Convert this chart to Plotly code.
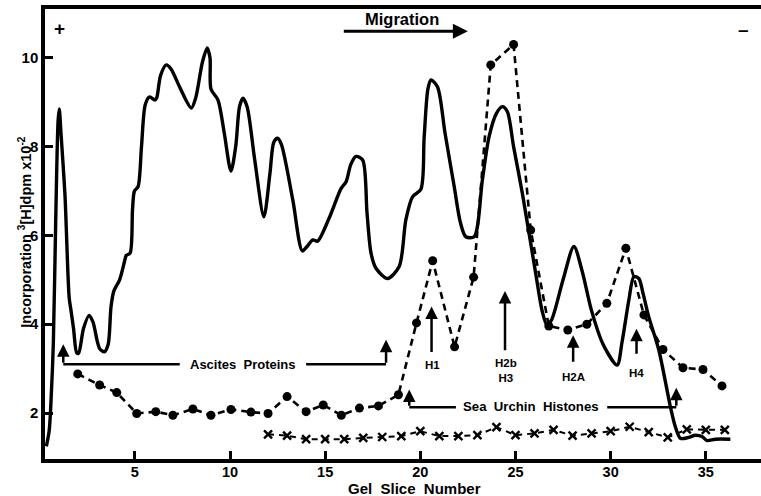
import plotly.graph_objects as go

# ---- data ----
solid_x = [0.35, 0.5, 0.62, 0.72, 0.85, 0.97, 1.03, 1.12, 1.33, 1.55, 1.65, 1.78, 1.95, 2.05, 2.3, 2.6, 2.8,
           3.15, 3.4, 3.6, 3.75, 3.9, 4.2, 4.45, 4.55, 4.75, 4.88, 4.98, 5.17, 5.35, 5.55, 5.78, 6.05, 6.15,
           6.35, 6.65, 6.9, 7.4, 7.97, 8.2, 8.55, 8.8, 8.95, 9.0, 9.37, 9.7, 10.05, 10.3, 10.5, 10.68, 10.9,
           11.3, 11.78, 12.1, 12.3, 12.5, 12.7, 13.3, 13.8, 14.05, 14.35, 14.6, 15.2, 15.84, 16.1, 16.35,
           16.62, 16.97, 17.2, 17.41, 17.67, 18.28, 18.89, 19.24, 19.59, 20.03, 20.2, 20.4, 20.56, 20.9,
           21.3, 21.78, 22.1, 22.39, 22.83, 23.26, 23.61, 24.0, 24.31, 24.57, 24.9, 25.36, 26.06, 26.4,
           26.65, 26.9, 27.5, 28.07, 28.5, 29.0, 29.6, 30.34, 30.6, 30.96, 31.22, 31.48, 31.7, 32.0, 32.53,
           33.14, 33.4, 33.66, 34.1, 34.45, 34.8, 35.06, 35.5, 36.29]
solid_y = [1.25, 1.6, 2.5, 3.6, 6.5, 8.6, 8.85, 8.3, 6.9, 4.6, 4.3, 3.9, 3.35, 3.35, 3.9, 4.2, 4.05,
           3.45, 3.38, 3.55, 4.4, 4.75, 5.0, 5.4, 5.55, 5.6, 6.6, 7.0, 7.1, 8.0, 8.95, 9.12, 9.05, 9.1,
           9.6, 9.84, 9.75, 9.3, 8.87, 9.1, 9.9, 10.22, 10.0, 9.3, 9.05, 8.3, 7.45, 8.0, 8.9, 9.09, 8.9,
           7.7, 6.42, 7.4, 8.1, 8.19, 8.05, 6.8, 5.65, 5.75, 5.9, 5.87, 6.38, 7.06, 7.21, 7.6,
           7.78, 7.7, 6.5, 5.6, 5.26, 5.03, 5.3, 6.35, 6.87, 7.04, 8.2, 9.3, 9.5, 9.35,
           8.3, 7.1, 6.3, 5.97, 5.97, 7.25, 8.22, 8.75, 8.9, 8.79, 8.0, 6.95, 5.15, 4.3,
           3.98, 4.1, 5.0, 5.75, 5.2, 4.3, 3.55, 3.08, 3.6, 4.55, 5.07, 5.03, 4.7, 4.17, 3.42,
           2.14, 1.69, 1.43, 1.45, 1.5, 1.47, 1.38, 1.41, 1.41]

dot_x = [2.0, 3.15, 4.05, 5.1, 6.1, 7.0, 8.05, 9.0, 10.05, 11.1, 12.0, 13.0, 14.0, 14.9, 15.85, 16.8,
         17.8, 18.85, 19.8, 20.65, 21.8, 22.8, 23.7, 24.9, 25.8, 26.75, 27.75, 28.75, 29.8, 30.8,
         31.75, 32.75, 33.8, 34.85, 35.85]
dot_y = [2.88, 2.63, 2.46, 1.99, 2.03, 1.95, 2.09, 1.95, 2.08, 2.02, 1.99, 2.37, 2.03, 2.18, 1.95, 2.11,
         2.16, 2.41, 4.03, 5.43, 3.49, 5.06, 9.84, 10.3, 6.12, 3.96, 3.87, 4.0, 4.47, 5.71,
         4.21, 3.43, 3.02, 2.98, 2.61]

cross_x = [12, 13, 14, 15, 16, 17, 18, 19, 20, 21, 22, 23, 24, 25, 26, 27, 28, 29, 30, 31, 32, 33, 34, 35, 36]
cross_y = [1.52, 1.49, 1.41, 1.41, 1.41, 1.44, 1.46, 1.48, 1.59, 1.48, 1.48, 1.5, 1.68, 1.5, 1.54, 1.62,
           1.49, 1.54, 1.59, 1.69, 1.57, 1.45, 1.63, 1.62, 1.62]

x_ticks = [5, 10, 15, 20, 25, 30, 35]
y_ticks = [2, 4, 6, 8, 10]

FONT = "Liberation Sans"

fig = go.Figure()
fig.add_trace(go.Scatter(x=solid_x, y=solid_y, mode="lines",
                         line=dict(color="black", width=3.4, shape="spline", smoothing=0.8),
                         showlegend=False, hoverinfo="skip"))
fig.add_trace(go.Scatter(x=dot_x, y=dot_y, mode="lines+markers",
                         line=dict(color="black", width=2.6, dash="7px,5px"),
                         marker=dict(color="black", size=9, symbol="circle"),
                         showlegend=False, hoverinfo="skip"))
fig.add_trace(go.Scatter(x=cross_x, y=cross_y, mode="lines+markers",
                         line=dict(color="black", width=2.0, dash="6px,5px"),
                         marker=dict(color="black", size=8, symbol="x-thin",
                                     line=dict(color="black", width=2.4)),
                         showlegend=False, hoverinfo="skip"))

anns = []
shapes = []

def text(x, y, s, size=12, xref="x", yref="y", angle=0, xanchor="center", yanchor="middle"):
    anns.append(dict(x=x, y=y, xref=xref, yref=yref, text=s, showarrow=False, textangle=angle,
                     xanchor=xanchor, yanchor=yanchor,
                     font=dict(family=FONT, size=size, color="black", weight="bold")))

def arrow(x0, y0, x1, y1, width=2.5, head=2, size=1.0):
    anns.append(dict(x=x1, y=y1, ax=x0, ay=y0, xref="x", yref="y", axref="x", ayref="y",
                     text="", showarrow=True, arrowhead=head, arrowsize=size, arrowwidth=width,
                     arrowcolor="black"))

def seg(x0, y0, x1, y1, width=2.5):
    shapes.append(dict(type="line", x0=x0, y0=y0, x1=x1, y1=y1, xref="x", yref="y",
                       line=dict(color="black", width=width)))

# + / - and migration arrow
text(1.06, 10.65, "+", size=19)
text(36.97, 10.63, "\u2013", size=19)
text(19.05, 10.88, "Migration", size=16.5)
arrow(15.9, 10.6, 22.5, 10.6, width=3, head=2, size=1.0)

# Ascites Proteins bracket
yb = 3.1
seg(1.24, yb, 7.36, yb)
seg(14.0, yb, 18.2, yb)
arrow(1.24, yb, 1.24, 3.55)
arrow(18.2, yb, 18.2, 3.65)
text(10.66, yb, "Ascites  Proteins", size=13)

# Sea Urchin Histones bracket
yh = 2.13
seg(19.42, yh, 21.87, yh)
seg(29.82, yh, 33.45, yh)
arrow(19.42, yh, 19.42, 2.53)
arrow(33.45, yh, 33.45, 2.57)
text(25.84, yh + 0.02, "Sea  Urchin  Histones", size=13.2)

# histone arrows
arrow(20.59, 3.34, 20.59, 4.4, width=2.5)
text(20.62, 3.08, "H1", size=11.5)
arrow(24.45, 3.38, 24.45, 4.75, width=2.5)
text(24.48, 2.96, "H2b<br>H3", size=11.5)
arrow(28.03, 3.12, 28.03, 3.75, width=2.5)
text(28.05, 2.82, "H2A", size=11.5)
arrow(31.36, 3.3, 31.36, 3.9, width=2.5)
text(31.38, 2.9, "H4", size=11.5)

# axis titles
text(19.7, -0.066, "Gel  Slice  Number", size=15, yref="paper")
text(-0.028, 0.505, "Incorporation <sup>3</sup>[H]dpm x10<sup>-2</sup>", size=14.5,
     xref="paper", yref="paper", angle=-90)

fig.update_layout(
    width=761, height=496,
    margin=dict(l=45, r=0, t=9, b=37),
    paper_bgcolor="white", plot_bgcolor="white",
    annotations=anns, shapes=shapes,
    xaxis=dict(range=[0.28, 37.9], tickvals=x_ticks, ticks="inside", ticklen=8, tickwidth=3,
               tickcolor="black", showline=True, linewidth=3.5, linecolor="black", mirror=True,
               showgrid=False, zeroline=False, ticklabelstandoff=-3,
               tickfont=dict(family=FONT, size=14.5, color="black", weight="bold")),
    yaxis=dict(range=[0.964, 11.1], tickvals=y_ticks, ticks="inside", ticklen=8, tickwidth=3,
               tickcolor="black", showline=True, linewidth=3.5, linecolor="black",
               showgrid=False, zeroline=False,
               tickfont=dict(family=FONT, size=15, color="black", weight="bold")),
)

fig.write_html("out.html", config={"displayModeBar": False},
               post_script="document.body.style.margin='0';document.body.style.overflow='hidden';")
